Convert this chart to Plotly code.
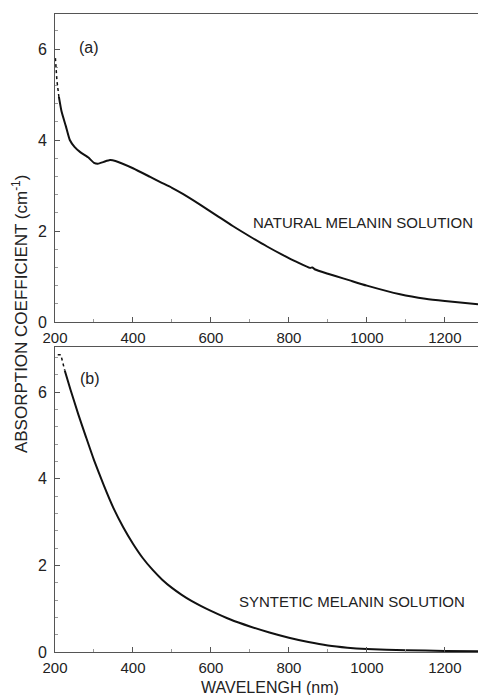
import plotly.graph_objects as go

# Absorption spectra of melanin solutions
natural_nm = [201, 205, 210, 217, 228, 238, 250, 264, 285, 300, 310, 325, 341, 355,
              400, 444, 469, 500, 529, 572, 615, 656, 700, 744, 785, 820, 854, 860,
              866, 900, 939, 956, 1000, 1085, 1150, 1200, 1285]
natural_abs = [5.8, 5.3, 4.95, 4.62, 4.3, 4.0, 3.85, 3.74, 3.62, 3.5, 3.48, 3.52, 3.56, 3.54,
               3.38, 3.19, 3.08, 2.95, 2.81, 2.58, 2.34, 2.11, 1.88, 1.66, 1.47, 1.32, 1.19, 1.2,
               1.16, 1.06, 0.96, 0.915, 0.8, 0.61, 0.51, 0.46, 0.39]

synthetic_nm = [207, 215, 225, 240, 260, 280, 300, 325, 350, 375, 400, 425, 450, 475,
                500, 525, 550, 575, 600, 650, 700, 750, 800, 850, 900, 950, 1000, 1100,
                1200, 1285]
synthetic_abs = [6.86, 6.86, 6.5, 6.05, 5.48, 4.95, 4.43, 3.85, 3.32, 2.88, 2.5, 2.17, 1.9, 1.67,
                 1.48, 1.32, 1.18, 1.06, 0.95, 0.75, 0.59, 0.45, 0.33, 0.23, 0.15, 0.1, 0.07, 0.04,
                 0.025, 0.02]

x_ticks = [200, 400, 600, 800, 1000, 1200]
y_ticks = [0, 2, 4, 6]

FONT = "Liberation Sans, Arial, sans-serif"
TXT = "#222222"
AX = "#555555"

fig = go.Figure()

# noisy short-wavelength ends drawn dotted, rest solid
fig.add_trace(go.Scatter(x=natural_nm[:3], y=natural_abs[:3], mode="lines",
                         line=dict(color="#111", width=1.5, dash="dot"),
                         xaxis="x", yaxis="y", showlegend=False))
fig.add_trace(go.Scatter(x=natural_nm[2:], y=natural_abs[2:], mode="lines",
                         line=dict(color="#111", width=2, shape="spline", smoothing=0.5),
                         xaxis="x", yaxis="y", showlegend=False))
fig.add_trace(go.Scatter(x=synthetic_nm[:3], y=synthetic_abs[:3], mode="lines",
                         line=dict(color="#111", width=1.5, dash="dot"),
                         xaxis="x2", yaxis="y2", showlegend=False))
fig.add_trace(go.Scatter(x=synthetic_nm[2:], y=synthetic_abs[2:], mode="lines",
                         line=dict(color="#111", width=2, shape="spline", smoothing=0.5),
                         xaxis="x2", yaxis="y2", showlegend=False))

xcommon = dict(range=[200, 1285], tickvals=x_ticks, ticks="inside", ticklen=5,
               tickcolor=AX, showline=True, linecolor=AX, linewidth=1, mirror=True,
               showgrid=False, zeroline=False, ticklabelstandoff=2,
               tickfont=dict(family=FONT, size=15, color=TXT),
               minor=dict(dtick=100, tick0=200, ticks="inside", ticklen=3, tickcolor="#999"))
ycommon = dict(tickvals=y_ticks, ticks="inside", ticklen=5, tickcolor=AX,
               showline=True, linecolor=AX, linewidth=1, mirror=False,
               showgrid=False, zeroline=False, ticklabelstandoff=4,
               tickfont=dict(family=FONT, size=16, color=TXT),
               minor=dict(dtick=0.4, tick0=0, ticks="inside", ticklen=3, tickcolor="#999"))

fig.update_layout(
    width=478, height=695,
    margin=dict(l=55, r=0, t=14, b=43),
    paper_bgcolor="white", plot_bgcolor="white",
    xaxis=dict(**xcommon, domain=[0, 1], anchor="y"),
    yaxis=dict(**ycommon, range=[0, 6.77], domain=[0.5172, 1], anchor="x"),
    xaxis2=dict(**xcommon, domain=[0, 1], anchor="y2"),
    yaxis2=dict(**ycommon, range=[0, 7.04], domain=[0, 0.478], anchor="x2"),
    annotations=[
        dict(text="(a)", x=287, y=6.04, xref="x", yref="y", showarrow=False,
             font=dict(family=FONT, size=16, color=TXT)),
        dict(text="(b)", x=290, y=6.31, xref="x2", yref="y2", showarrow=False,
             font=dict(family=FONT, size=16, color=TXT)),
        dict(text="NATURAL MELANIN SOLUTION", x=703, y=2.18, xref="x", yref="y",
             xanchor="left", showarrow=False,
             font=dict(family=FONT, size=15, color=TXT)),
        dict(text="SYNTETIC MELANIN SOLUTION", x=667, y=1.17, xref="x2", yref="y2",
             xanchor="left", showarrow=False,
             font=dict(family=FONT, size=15, color=TXT)),
        dict(text="ABSORPTION COEFFICIENT (cm<sup>-1</sup>)", textangle=-90,
             x=-0.083, y=0.531, xref="paper", yref="paper", xanchor="center",
             yanchor="middle", showarrow=False,
             font=dict(family=FONT, size=17, color=TXT)),
        dict(text="WAVELENGH (nm)", x=0.508, y=-0.0549, xref="paper", yref="paper",
             xanchor="center", yanchor="middle",
             showarrow=False, font=dict(family=FONT, size=16, color=TXT)),
    ],
)

fig.write_html("out.html")
